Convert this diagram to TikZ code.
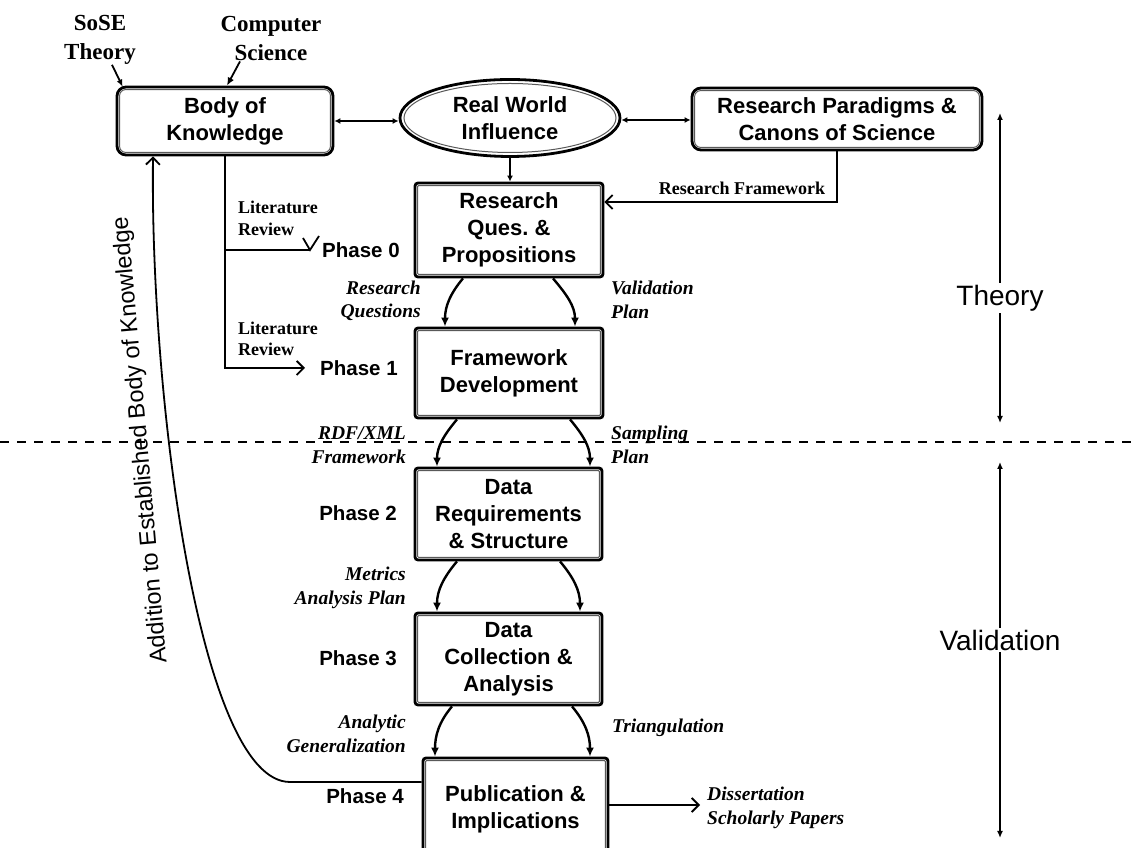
\documentclass[tikz,border=0pt]{standalone}
\usepackage{fontspec}
\setmainfont{Liberation Serif}
\setsansfont{Liberation Sans}
\usetikzlibrary{arrows.meta,shapes.geometric}

\newcommand\stagefont{\sffamily\bfseries\fontsize{22}{27}\selectfont}
\newcommand\phasefont{\sffamily\bfseries\fontsize{20.5}{24}\selectfont}
\newcommand\srcfont{\rmfamily\bfseries\fontsize{23}{29}\selectfont}
\newcommand\notefont{\rmfamily\bfseries\fontsize{18}{21.5}\selectfont}
\newcommand\flowfont{\rmfamily\bfseries\itshape\fontsize{19.5}{23.5}\selectfont}
\newcommand\sidefont{\sffamily\fontsize{28}{32}\selectfont}

\tikzset{
  stagebox/.style={draw, line width=2.8pt, rounded corners=3pt, fill=white,
    align=center, inner sep=0pt, font=\stagefont},
  innerline/.style={line width=1pt, black!65},
  lbl/.style={inner sep=0pt},
  phase/.style={lbl, font=\phasefont},
  flowlbl/.style={lbl, font=\flowfont},
  conn/.style={line width=1.8pt},
  arcarrow/.style={line width=2.4pt, -{Latex[length=9pt,width=8pt]}},
  barb/.style={conn, -{Straight Barb[length=7pt,width=14pt]}},
  smalltips/.style={line width=1.6pt, {Latex[length=6pt,width=6pt]}-{Latex[length=6pt,width=6pt]}},
  sidearrow/.style={line width=1.4pt, -{Latex[length=7pt,width=6pt]}},
}

\begin{document}
\begin{tikzpicture}[x=1pt,y=1pt]
\useasboundingbox (0,0) rectangle (1136,848);

% theory / validation boundary
\draw[line width=1.6pt, dash pattern=on 9pt off 8pt] (0,406) -- (1136,406);

% top row
\node[stagebox, rounded corners=9pt, minimum width=216pt, minimum height=68pt] (bok) at (225,727) {Body of\\Knowledge};
\node[ellipse, draw, line width=2.8pt, fill=white, minimum width=220pt, minimum height=77pt,
      inner sep=0pt, align=center, font=\stagefont] (rwi) at (510,730) {Real World\\Influence};
\node[stagebox, rounded corners=9pt, minimum width=290pt, minimum height=62pt] (rp) at (837,729) {Research Paradigms \&\\Canons of Science};

% research stages
\node[stagebox, minimum width=188pt, minimum height=94pt] (resq) at (509,618) {Research\\Ques.\ \&\\Propositions};
\node[stagebox, minimum width=188pt, minimum height=90pt] (fw) at (509,475) {Framework\\Development};
\node[stagebox, minimum width=187pt, minimum height=92pt] (dr) at (508.5,334) {Data\\Requirements\\\& Structure};
\node[stagebox, minimum width=187pt, minimum height=92pt] (dc) at (508.5,189) {Data\\Collection \&\\Analysis};
\node[stagebox, minimum width=185pt, minimum height=102pt] (pub) at (515.5,39) {Publication \&\\Implications};

% inner rules of the double borders
\foreach \n/\r in {bok/6pt, rp/6pt, resq/1pt, fw/1pt, dr/1pt, dc/1pt, pub/1pt}
  \draw[innerline, rounded corners=\r] ([shift={(4pt,-4pt)}]\n.north west) rectangle ([shift={(-4pt,4pt)}]\n.south east);
\draw[innerline] (rwi.center) ellipse [x radius=106pt, y radius=34.5pt];

% source labels
\node[lbl, align=center, font=\srcfont] (sose) at (100,808) {SoSE\\Theory};
\node[lbl, align=center, font=\srcfont] (cs) at (271,809) {Computer\\Science};
\node[lbl, font=\notefont] (rfl) at (742,660) {Research Framework};
\node[lbl, anchor=west, align=left, font=\notefont] (lit0) at (238,629.5) {Literature\\Review};
\node[lbl, anchor=west, align=left, font=\notefont] (lit1) at (238,509) {Literature\\Review};

% phases
\node[phase, anchor=west] (ph0) at (322,598) {Phase 0};
\node[phase, anchor=west] (ph1) at (320,480) {Phase 1};
\node[phase, anchor=east] (ph2) at (397,335) {Phase 2};
\node[phase, anchor=east] (ph3) at (397,190) {Phase 3};
\node[phase, anchor=east] (ph4) at (404,52) {Phase 4};

% flow labels
\node[flowlbl, anchor=east, align=right] (rq) at (421,547) {Research\\Questions};
\node[flowlbl, anchor=west, align=left] (vp) at (611,548) {Validation\\Plan};
\node[flowlbl, anchor=east, align=right] (rdf) at (406,403) {RDF/XML\\Framework};
\node[flowlbl, anchor=west, align=left] (samp) at (611,403) {Sampling\\Plan};
\node[flowlbl, anchor=east, align=right] (met) at (406,260) {Metrics\\Analysis Plan};
\node[flowlbl, anchor=east, align=right] (ana) at (406,114) {Analytic\\Generalization};
\node[flowlbl, anchor=west] (tri) at (612,120) {Triangulation};
\node[flowlbl, anchor=west, align=left] (diss) at (707,40) {Dissertation\\Scholarly Papers};

% side labels
\node[font=\sidefont, inner sep=2pt] (theory) at (1000,550) {Theory};
\node[font=\sidefont, inner sep=2pt] (valid) at (1000,208) {Validation};
\node[rotate=95, font=\sffamily\fontsize{23.5}{27}\selectfont] (addl) at (141,408) {Addition to Established Body of Knowledge};

% inputs to the body of knowledge
\draw[conn, -{Latex[length=7pt,width=6pt]}] ([xshift=12pt]sose.south) -- ([shift={(7pt,-1pt)}]bok.north west);
\draw[conn, -{Latex[length=8pt,width=7pt]}] ([xshift=-31pt]cs.south) -- ([xshift=2pt]bok.north);

% top row links
\draw[smalltips] (bok.east) -- (bok.east -| rwi.west);
\draw[smalltips] ([yshift=-2pt]rwi.east) -- ([yshift=-2pt]rwi.east -| rp.west);
\draw[conn, -{Latex[length=6pt,width=6pt]}] (rwi.south) -- (rwi.south |- resq.north);
\draw[barb] (rp.south) |- ([yshift=28pt]resq.east);

% literature review
\draw[barb] (bok.south) |- ([xshift=-15pt]ph1.west);
\draw[conn] (bok.south |- ph0.west) -- ([xshift=-12pt]ph0.west) coordinate (v0);
\draw[conn] ([shift={(-7pt,12pt)}]v0) -- (v0) -- ([shift={(9pt,14pt)}]v0);

% stage to stage
\draw[arcarrow] ([xshift=-46pt]resq.south) to[out=230,in=90] ([xshift=-64pt]fw.north);
\draw[arcarrow] ([xshift=44pt]resq.south) to[out=-50,in=90] ([xshift=66pt]fw.north);
\draw[arcarrow] ([xshift=-52pt]fw.south) to[out=230,in=90] ([xshift=-71.5pt]dr.north);
\draw[arcarrow] ([xshift=61pt]fw.south) to[out=-50,in=90] ([xshift=81.5pt]dr.north);
\draw[arcarrow] ([xshift=-51.5pt]dr.south) to[out=230,in=90] ([xshift=-71.5pt]dc.north);
\draw[arcarrow] ([xshift=51.5pt]dr.south) to[out=-50,in=90] ([xshift=71.5pt]dc.north);
\draw[arcarrow] ([xshift=-56.5pt]dc.south) to[out=230,in=90] ([xshift=-80.5pt]pub.north);
\draw[arcarrow] ([xshift=63.5pt]dc.south) to[out=-50,in=90] ([xshift=74.5pt]pub.north);

% outputs
\draw[barb, shorten >=7pt] ([yshift=4pt]pub.east) -- ([yshift=4pt]pub.east -| diss.west);
\draw[barb] ([yshift=27pt]pub.west) -- (290,66) .. controls (200,66) and (150,448) .. ([xshift=-72pt]bok.south);

% theory / validation extents
\draw[sidearrow] (theory.north) -- (1000,735);
\draw[sidearrow] (theory.south) -- (1000,425);
\draw[sidearrow] (valid.north) -- (1000,386);
\draw[sidearrow] (valid.south) -- (1000,10);
\end{tikzpicture}
\end{document}
